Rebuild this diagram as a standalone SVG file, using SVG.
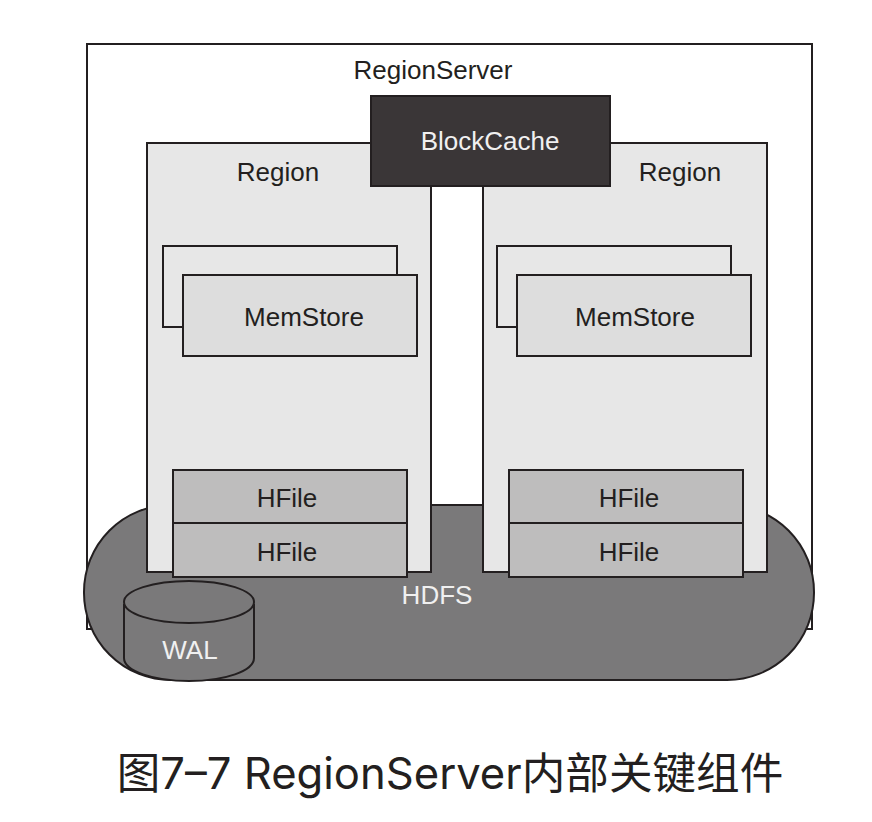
<svg xmlns="http://www.w3.org/2000/svg" width="872" height="822" viewBox="0 0 872 822">
<style>
.b{stroke:#231f20;stroke-width:2}
text{font-family:"Liberation Sans",Arial,sans-serif;font-size:26px;fill:#231f20;text-anchor:middle}
.w{fill:#f0f0f0}
.r{fill:#e7e7e7}
.m{fill:#dddddd}
.h{fill:#bebdbd}
</style>
<rect width="872" height="822" fill="#fff"/>
<g id="regionserver"><rect class="b" x="87" y="44" width="725" height="585" fill="#fff"/><text x="433" y="79">RegionServer</text></g>
<g id="hdfs"><rect class="b" x="84" y="505" width="730" height="175" rx="87" fill="#7a797a"/><text class="w" x="437" y="604">HDFS</text></g>
<g id="region-left"><rect class="b r" x="147" y="143" width="284" height="429"/><text x="278" y="181">Region</text></g>
<g id="region-right"><rect class="b r" x="483" y="143" width="284" height="429"/><text x="680" y="181">Region</text></g>
<g id="blockcache"><rect class="b" x="371" y="96" width="239" height="90" fill="#3a3637"/><text class="w" x="490" y="150">BlockCache</text></g>
<g id="memstore-left"><rect class="b r" x="163" y="246" width="234" height="81"/><rect class="b m" x="183" y="275" width="234" height="81"/><text x="304" y="326">MemStore</text></g>
<g id="memstore-right"><rect class="b r" x="497" y="246" width="234" height="81"/><rect class="b m" x="517" y="275" width="234" height="81"/><text x="635" y="326">MemStore</text></g>
<g id="hfile-l1"><rect class="b h" x="173" y="470" width="234" height="53"/><text x="287" y="507">HFile</text></g>
<g id="hfile-l2"><rect class="b h" x="173" y="523" width="234" height="54"/><text x="287" y="561">HFile</text></g>
<g id="hfile-r1"><rect class="b h" x="509" y="470" width="234" height="53"/><text x="629" y="507">HFile</text></g>
<g id="hfile-r2"><rect class="b h" x="509" y="523" width="234" height="54"/><text x="629" y="561">HFile</text></g>
<g id="wal"><path class="b" d="M124 604V658C124 671 153 681 189 681S254 671 254 658V604" fill="#7a797a"/><ellipse class="b" cx="189" cy="602" rx="65" ry="21" fill="#7a797a"/><text class="w" x="190" y="659">WAL</text></g>
<g id="connectors"></g>
<text x="450" y="789" style="font-size:43.6px;font-family:'Inter','Noto Sans CJK SC',sans-serif">图7–7 RegionServer内部关键组件</text>
</svg>
